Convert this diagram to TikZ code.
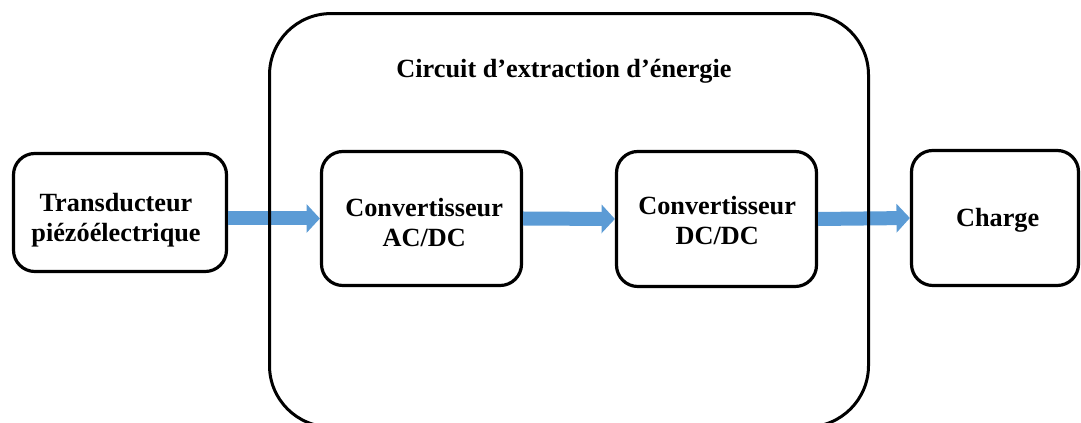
\documentclass[tikz,border=0pt]{standalone}
\usepackage{fontspec}
\setmainfont{Liberation Serif}
\usepackage{tikz}
\usetikzlibrary{arrows.meta}
\usetikzlibrary{positioning}
\definecolor{flowblue}{HTML}{5B9BD5}
\tikzstyle{block} = [draw, line width=2.4pt, rounded corners=16pt, inner sep=0pt]
\tikzstyle{blocktext} = [align=center, font=\fontsize{19.7}{22.5}\selectfont\bfseries, inner sep=0pt]
\tikzstyle{flow} = [flowblue, line width=10.5pt, -{Triangle[length=10pt,width=21pt]}]

\begin{document}
\begin{tikzpicture}[x=0.75pt,y=-0.75pt]
                        \useasboundingbox (0,0) rectangle (1081,423);

                        \node[block, minimum width=159.75pt, minimum height=88.5pt](tr) at (120,212.5) {};
                        \node[block, minimum width=150pt, minimum height=100.5pt](ac) at (421.5,218.5) {};
                        \node[block, minimum width=150pt, minimum height=101.25pt](dc) at (716.5,219) {};
                        \node[block, minimum width=125.25pt, minimum height=101.25pt](ch) at (995,218) {};

                        \node[blocktext](trtext) at ([xshift=-3pt,yshift=-6pt]tr.center) {Transducteur\\pi\'ez\'o\'electrique};
                        \node[blocktext](actext) at ([xshift=2pt,yshift=-3pt]ac.center) {Convertisseur\\AC/DC};
                        \node[blocktext](dctext) at ([xshift=0.5pt,yshift=-1.5pt]dc.center) {Convertisseur\\DC/DC};
                        \node[blocktext](chtext) at ([xshift=2pt,yshift=-2pt]ch.center) {Charge};

                        \draw[flow](tr.east |- ac.west) -- (ac.west);
                        \draw[flow](ac.east) -- (dc.west);
                        \draw[flow](dc.east) -- (ch.west);

                        \node[draw, line width=2.25pt, rounded corners=46pt, minimum width=449.25pt, minimum height=310pt](circuit) at (569,220.25) {};
                        \node[blocktext, anchor=base](title) at (564,78) {Circuit d’extraction d’\'energie};
                    \end{tikzpicture}
\end{document}
